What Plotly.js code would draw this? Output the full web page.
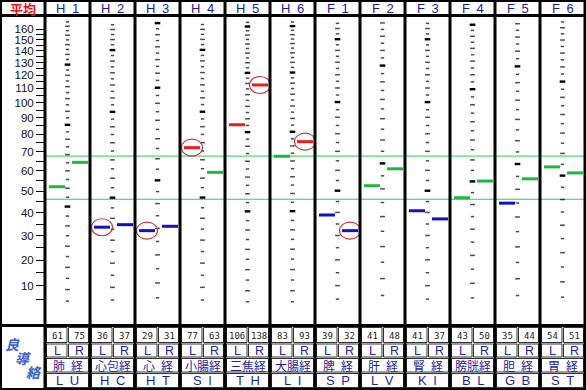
<!DOCTYPE html>
<html><head><meta charset="utf-8">
<script src="https://cdn.plot.ly/plotly-3.0.1.min.js"></script>
<style>html,body{margin:0;padding:0;background:#fff}#c{width:586px;height:390px}</style>
</head><body><div id="c"></div>
<script>
// ---------------- data ----------------
const columnLabels = ['H 1','H 2','H 3','H 4','H 5','H 6','F 1','F 2','F 3','F 4','F 5','F 6'];
const meridianNames = ['肺\u2002経','心包経','心\u2002経','小腸経','三焦経','大腸経','脾\u2002経','肝\u2002経','腎\u2002経','膀胱経','胆\u2002経','胃\u2002経'];
const meridianCodes = ['L U','H C','H T','S I','T H','L I','S P','L V','K I','B L','G B','S T'];
const rawLeft  = [61, 36, 29, 77, 106, 83, 39, 41, 41, 43, 35, 54];
const rawRight = [75, 37, 31, 63, 138, 93, 32, 48, 37, 50, 44, 51];
const levelLeft  = [52.1, 33.7, 32.2, 72.3, 85.7, 67.6, 39.0, 52.6, 40.9, 46.9, 44.4, 62.0];
const levelRight = [64.4, 34.8, 34.1, 59.2, 112.6, 75.7, 32.2, 61.0, 37.3, 54.9, 56.0, 58.9];
const circledLeft  = [false, true, true, true, false, false, false, false, false, false, false, false];
const circledRight = [false, false, false, false, true, true, true, false, false, false, false, false];
const upperBand = 67.7;
const lowerBand = 46.2;
const axisTickValues = [5,10,15,20,25,30,35,40,45,50,55,60,65,70,75,80,85,90,95,100,105,110,115,120,125,130,135,140,145,150,155,160];

// nonlinear "平均" scale: value -> axis coordinate
const SCALE_VALS = [0,10,20,30,40,50,60,70,80,90,100,110,120,130,140,150,160,170];
const SCALE_POS  = [312.7,285.7,260,235.7,212.7,191,170.7,151.7,134.1,117.7,102.5,88.4,75.2,62.7,50.9,39.7,29.0,18.8];
function toY(v){
  let i = 0;
  while (i < SCALE_VALS.length - 2 && v > SCALE_VALS[i+1]) i++;
  const t = (v - SCALE_VALS[i]) / (SCALE_VALS[i+1] - SCALE_VALS[i]);
  return SCALE_POS[i] + t * (SCALE_POS[i+1] - SCALE_POS[i]);
}

// ---------------- layout helpers ----------------
const L = 45, T = 17, W = 540, H = 308;
const PX = px => (px - L) / W;
const PY = py => (T + H - py) / H;
const NC = columnLabels.length;

const OFF_L = 12/45, OFF_R = 35/45, OFF_C = 0.5;
const RED = '#ee1c1c', GREEN = '#1fb83a', BLUE = '#1010c8';
function colorFor(v){ return v > upperBand ? RED : (v < lowerBand ? BLUE : GREEN); }

const traces = [];

// per-column scale dashes
const dx = [], dy = [], ds = [];
const bx = [], by = [];
for (let i = 0; i < NC; i++) {
  const r = (levelLeft[i]/rawLeft[i] + levelRight[i]/rawRight[i]) / 2;
  for (let k = 5; k * r <= 167; k += 5) {
    const lv = k * r;
    if (lv < 3) continue;
    if (k % 50 === 0) { bx.push(i + OFF_C); by.push(toY(lv)); }
    else { dx.push(i + OFF_C); dy.push(toY(lv)); ds.push(k % 10 === 0 ? 3.4 : 2.4); }
  }
}
traces.push({x: dx, y: dy, type: 'scatter', mode: 'markers', hoverinfo: 'skip',
  marker: {symbol: 'line-ew', size: ds, line: {color: '#000', width: 1.5}}});
traces.push({x: bx, y: by, type: 'scatter', mode: 'markers', hoverinfo: 'skip',
  marker: {symbol: 'line-ew', size: 4.0, line: {color: '#000', width: 2.4}}});

// level bars
const mx = [], my = [], mc = [];
for (let i = 0; i < NC; i++) {
  mx.push(i + OFF_L); my.push(toY(levelLeft[i])); mc.push(colorFor(levelLeft[i]));
  mx.push(i + OFF_R); my.push(toY(levelRight[i])); mc.push(colorFor(levelRight[i]));
}
traces.push({x: mx, y: my, type: 'scatter', mode: 'markers', hoverinfo: 'skip',
  marker: {symbol: 'line-ew', size: 11.4, line: {color: mc, width: 3}}});

// ---------------- shapes ----------------
const shapes = [];
[upperBand, lowerBand].forEach(b => shapes.push({type: 'line', xref: 'paper', yref: 'y', x0: 0, x1: 1,
  y0: toY(b), y1: toY(b), line: {color: '#33cc55', width: 1}, layer: 'below'}));
for (let i = 0; i < NC; i++) {
  [[circledLeft[i], OFF_L, levelLeft[i]], [circledRight[i], OFF_R, levelRight[i]]].forEach(([c, off, v]) => {
    if (!c) return;
    const cy = toY(v);
    shapes.push({type: 'circle', xref: 'x', yref: 'y', x0: i + off - 10.5/45, x1: i + off + 10.5/45,
      y0: cy - 8.5, y1: cy + 8.5, line: {color: '#c03838', width: 1.1}});
  });
}
function pline(x0, y0, x1, y1, w, c){ shapes.push({type: 'line', xref: 'paper', yref: 'paper',
  x0: PX(x0), y0: PY(y0), x1: PX(x1), y1: PY(y1), line: {color: c || '#000', width: w}}); }
function prect(x0, y0, x1, y1, w, c){ shapes.push({type: 'rect', xref: 'paper', yref: 'paper',
  x0: PX(x0), y0: PY(y0), x1: PX(x1), y1: PY(y1), line: {color: c || '#000', width: w}}); }

for (let i = 0; i < NC; i++) {
  const x0 = L + 45 * i;
  prect(x0 + 1.5, 327.5, x0 + 22, 342.5, 1, '#333');
  prect(x0 + 23.5, 327.5, x0 + 43.5, 342.5, 1, '#333');
  prect(x0 + 1.5, 344, x0 + 22, 357, 1, '#333');
  prect(x0 + 23.5, 344, x0 + 43.5, 357, 1, '#333');
  prect(x0 + 1.5, 358.5, x0 + 43.5, 372, 1, '#333');
  prect(x0 + 1.5, 373.5, x0 + 43.5, 387.5, 1, '#333');
}
for (let k = 0; k <= NC; k++) pline(L + 45 * k, 0, L + 45 * k, 390, 3);
pline(0, 15.5, 586, 15.5, 3);
pline(0, 325.5, 586, 325.5, 3);
prect(1, 1, 585, 389, 2);

// ---------------- annotations ----------------
const ann = [];
function txt(x, y, s, size, color, family, extra){
  ann.push(Object.assign({xref: 'paper', yref: 'paper', x: PX(x), y: PY(y), text: s, showarrow: false,
    xanchor: 'center', yanchor: 'middle', borderpad: 0, font: {size: size, color: color, family: family}}, extra || {}));
}
const SANS = 'Liberation Sans, Arial, sans-serif';
const JP = 'Noto Sans CJK JP, sans-serif';
txt(23, 9, '<b>平均</b>', 13, '#ee1111', JP);
for (let i = 0; i < NC; i++) {
  const x0 = L + 45 * i;
  txt(x0 + 22.5, 9, columnLabels[i].replace(' ', '\u2002'), 13, '#1a1a96', SANS);
  txt(x0 + 12, 335.5, String(rawLeft[i]), 9, '#222', 'DejaVu Sans Mono, monospace');
  txt(x0 + 34, 335.5, String(rawRight[i]), 9, '#222', 'DejaVu Sans Mono, monospace');
  txt(x0 + 12, 350.5, 'L', 12.5, '#2222b0', SANS);
  txt(x0 + 34, 350.5, 'R', 12.5, '#2222b0', SANS);
  txt(x0 + 22.5, 365.4, meridianNames[i], 12, '#1e1ea0', JP);
  txt(x0 + 22.5, 380.5, meridianCodes[i].replace(' ', '\u2002'), 13, '#1e1ea0', SANS);
}
// logo
txt(12, 344, '<b><i>良</i></b>', 14, '#3a5fd0', JP);
txt(23, 358, '<b><i>導</i></b>', 14, '#3a5fd0', JP);
txt(34, 372, '<b><i>絡</i></b>', 14, '#3a5fd0', JP);

const layout = {
  width: 586, height: 390,
  margin: {l: L, r: 586 - L - W, t: T, b: 390 - T - H, pad: 0},
  paper_bgcolor: '#fff', plot_bgcolor: '#fff',
  showlegend: false,
  xaxis: {range: [0, NC], visible: false, fixedrange: true},
  yaxis: {range: [T + H, T], showgrid: false, zeroline: false, showline: false,
    tickmode: 'array', tickvals: axisTickValues.map(toY),
    ticktext: axisTickValues.map(v => v % 10 === 0 ? String(v) : ''),
    ticks: 'outside', ticklen: 8, tickwidth: 1, tickcolor: '#000',
    tickfont: {size: 11.5, color: '#111', family: SANS}, fixedrange: true},
  shapes: shapes,
  annotations: ann
};
Plotly.newPlot('c', traces, layout, {displayModeBar: false, staticPlot: true});
</script>
</body></html>
